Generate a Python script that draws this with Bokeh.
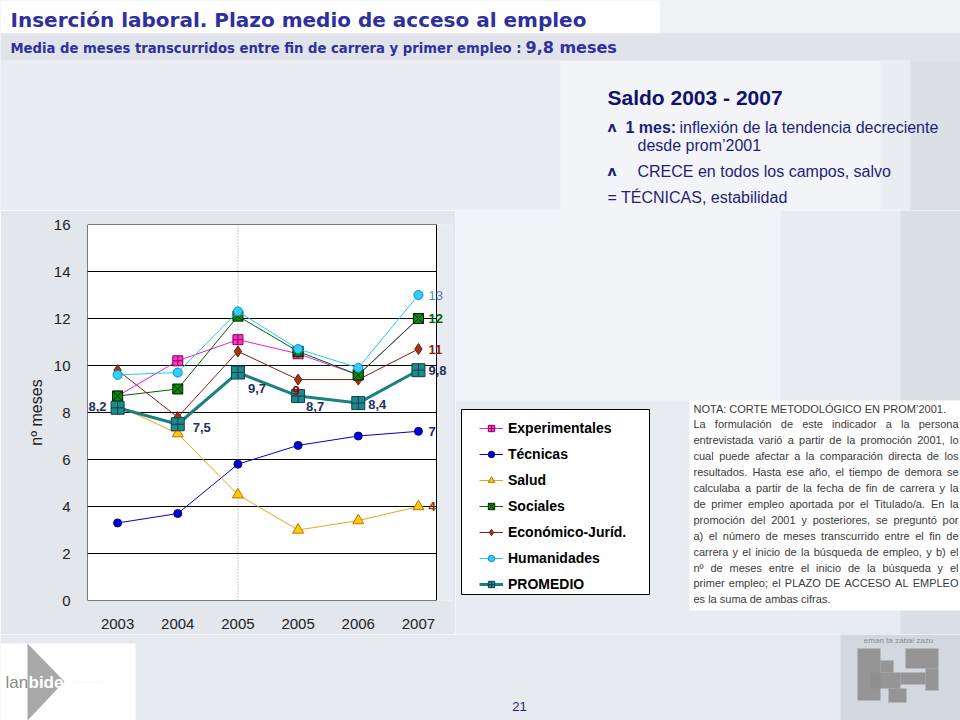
from bokeh.plotting import figure
from bokeh.layouts import column, row
from bokeh.models import (ColumnDataSource, Label, LabelSet, Legend, LegendItem,
                          Span, FixedTicker, Range1d)
from bokeh.embed import file_html
from bokeh.resources import INLINE
from bokeh.core.properties import value

# ---------------- data ----------------
years = ["2003", "2004", "2005", "2005", "2006", "2007"]
experimentales = [8.7, 10.2, 11.1, 10.5, 9.6, 12.0]
tecnicas = [3.3, 3.7, 5.8, 6.6, 7.0, 7.2]
salud = [8.3, 7.1, 4.5, 3.0, 3.4, 4.0]
sociales = [8.7, 9.0, 12.1, 10.6, 9.6, 12.0]
economico = [9.8, 7.8, 10.6, 9.4, 9.4, 10.7]
humanidades = [9.6, 9.7, 12.3, 10.7, 9.9, 13.0]
promedio = [8.2, 7.5, 9.7, 8.7, 8.4, 9.8]
y_ticks = [0, 2, 4, 6, 8, 10, 12, 14, 16]

xs = list(range(len(years)))
BG = "#E5E8ED"
NAVY = "#1E1E7A"
TITLE_C = "#2F2F9F"
ROW_TOP, ROW_BOT = 210, 634


def panel(x0, x1, y0, y1, bg=BG):
    """A figure whose frame covers the whole canvas; data units = page pixels."""
    f = figure(width=x1 - x0, height=y1 - y0, x_range=Range1d(x0, x1),
               y_range=Range1d(y1, y0), output_backend="svg",
               toolbar_location=None, x_axis_type=None, y_axis_type=None,
               min_border=0, title=None)
    f.outline_line_color = None
    f.background_fill_color = bg
    f.border_fill_color = bg
    f.frame_align = False
    return f


def txt(f, text, X, Y, size, color, style="normal", font="Liberation Sans",
        align="left", baseline="middle"):
    f.add_layout(Label(x=X, y=Y, text=text, text_font=font,
                       text_font_size=f"{size}px", text_font_style=style,
                       text_color=color, text_align=align, text_baseline=baseline))


def rect(f, l, t, r, b, fill, alpha=1.0, line=None, lw=1):
    f.quad(left=l, right=r, top=t, bottom=b, fill_color=fill, fill_alpha=alpha,
           line_color=line, line_width=lw)


# ---------------- header ----------------
head = panel(0, 960, 0, ROW_TOP)
rect(head, 0, 0, 660, 33, "white", 0.95)
rect(head, 660, 0, 960, 33, "#EEF0F4", 1.0)
rect(head, 0, 33, 960, 60, "#E0E4EA", 1.0)
rect(head, 0, 60, 960, ROW_TOP, "#E9ECF0", 1.0)
rect(head, 560, 60, 880, ROW_TOP, "#F3F4F7", 1.0)
rect(head, 910, 60, 960, ROW_TOP, "#DCE0E6", 1.0)

txt(head, "Inserción laboral. Plazo medio de acceso al empleo", 10, 19, 20, TITLE_C,
    "bold", "DejaVu Sans")
txt(head, "Media de meses transcurridos entre fin de carrera y primer empleo :", 10, 48,
    13.2, TITLE_C, "bold", "DejaVu Sans")
txt(head, "9,8 meses", 525, 47, 16, TITLE_C, "bold", "DejaVu Sans")

txt(head, "Saldo 2003 - 2007", 607, 97, 21, "#111170", "bold")
txt(head, "ʌ", 607, 126, 14, NAVY, "bold", "DejaVu Sans")
txt(head, "1 mes:", 625, 127, 16, NAVY, "bold")
txt(head, "inflexión de la tendencia decreciente", 679, 127, 16, NAVY)
txt(head, "desde prom’2001", 637, 145, 16, NAVY)
txt(head, "ʌ", 607, 170, 14, NAVY, "bold", "DejaVu Sans")
txt(head, "CRECE en todos los campos, salvo", 637, 171, 16, NAVY)
txt(head, "= TÉCNICAS, estabilidad", 607, 197, 16, NAVY)

# ---------------- chart ----------------
PX_PER_UNIT = 349 / 5.8
X_END = 5.3
chart = figure(width=455, height=ROW_BOT - ROW_TOP, output_backend="svg",
               toolbar_location=None, title=None,
               x_range=Range1d(-0.5, -0.5 + 365 / PX_PER_UNIT),
               y_range=Range1d(0, 16), min_border_left=87, min_border_right=3,
               min_border_top=224 - ROW_TOP, min_border_bottom=ROW_BOT - 600)
chart.frame_align = False
chart.border_fill_color = "#E3E6EB"
chart.background_fill_color = "#E8EBEF"
chart.outline_line_color = None

chart.xaxis.ticker = FixedTicker(ticks=xs)
chart.xaxis.major_label_overrides = {i: y for i, y in enumerate(years)}
chart.yaxis.ticker = FixedTicker(ticks=y_ticks)
for ax in (chart.xaxis[0], chart.yaxis[0]):
    ax.major_tick_line_color = None
    ax.minor_tick_line_color = None
    ax.axis_line_color = None
    ax.major_label_text_font = "Liberation Sans"
    ax.major_label_text_font_size = "15px"
    ax.major_label_text_color = "#222222"
chart.xaxis.major_label_standoff = 12
chart.yaxis.major_label_standoff = 11
chart.yaxis.axis_label = "nº meses"
chart.yaxis.axis_label_text_font = "Liberation Sans"
chart.yaxis.axis_label_text_font_size = "16px"
chart.yaxis.axis_label_text_font_style = "normal"
chart.yaxis.axis_label_text_color = "#222222"
chart.yaxis.axis_label_standoff = 6
chart.grid.visible = False

# plot area: white box with black border and horizontal gridlines
chart.quad(left=-0.5, right=X_END, bottom=y_ticks[0], top=y_ticks[-1],
           fill_color="white", line_color="black", line_width=1, level="underlay")
chart.segment(x0=[-0.5] * (len(y_ticks) - 2), x1=[X_END] * (len(y_ticks) - 2),
              y0=y_ticks[1:-1], y1=y_ticks[1:-1], line_color="black", line_width=1,
              level="underlay")
chart.add_layout(Span(location=2, dimension="height", line_color="#8C8CA8",
                      line_dash="1 2", line_width=1, level="underlay"))

# name, values, line colour, line width, marker, size, fill, outline
series = [
    ("Técnicas", tecnicas, "#0000CC", 1, "circle", 8, "#0000CC", "#000099"),
    ("Salud", salud, "#F0A020", 1, "triangle", 11, "#FFCC00", "#C07000"),
    ("Económico-Juríd.", economico, "#8B1A10", 1, "diamond", 11, "#A33510", "#6E1A05"),
    ("Experimentales", experimentales, "#E020E0", 1, "square_cross", 10, "#FF33CC", "#880055"),
    ("Sociales", sociales, "#006400", 1, "square_x", 10, "#0A8A0A", "#002800"),
    ("Humanidades", humanidades, "#22C8F0", 1, "circle", 9, "#33CCFF", "#0090C0"),
    ("PROMEDIO", promedio, "#1A8080", 3, "square_cross", 13, "#1F8A8A", "#0B3F50"),
]
styles = {}
for name, ys, lc, lw, mk, sz, fc, oc in series:
    src = ColumnDataSource(dict(x=xs, y=ys))
    chart.line("x", "y", source=src, line_color=lc, line_width=lw)
    chart.scatter("x", "y", source=src, marker=mk, size=sz, fill_color=fc,
                  line_color=oc, line_width=1)
    styles[name] = (src, lc, lw, mk, sz, fc, oc)


def fmt1(v):
    return f"{v:.1f}".replace(".", ",")


lab = dict(x=[], y=[], t=[], c=[], dx=[], dy=[], al=[], st=[])


def add_lab(x, y, t, c, dx, dy, al, st):
    for k, v in zip(["x", "y", "t", "c", "dx", "dy", "al", "st"], [x, y, t, c, dx, dy, al, st]):
        lab[k].append(v)


prom_off = [(-11, 1, "right"), (15, -3, "left"), (10, -16, "left"),
            (8, -10, "left"), (10, -1, "left"), (10, 0, "left")]
for i, v in enumerate(promedio):
    dx, dy, al = prom_off[i]
    add_lab(i, v, fmt1(v), "#1F3060", dx, dy, al, "bold")
ends = [(humanidades, "#5A7FC8", "normal"), (sociales, "#006400", "bold"),
        (economico, "#8B1A10", "bold"), (tecnicas, "#1F1F70", "bold"),
        (salud, "#993300", "bold")]
for ys, c, st in ends:
    add_lab(5, ys[5], str(int(round(ys[5]))), c, 10, 0, "left", st)
add_lab(3, economico[3], str(int(round(economico[3]))), "#990000", -2, -11, "center", "bold")

chart.add_layout(LabelSet(x="x", y="y", text="t", source=ColumnDataSource(lab),
                          x_offset="dx", y_offset="dy", text_color="c",
                          text_align="al", text_baseline="middle",
                          text_font=value("Liberation Sans"), text_font_size="13px",
                          text_font_style="st"))

# ---------------- right panel: legend + note ----------------
SX0 = 455
side = panel(SX0, 960, ROW_TOP, ROW_BOT, "#E8EBEF")
rect(side, SX0, ROW_TOP, 780, 400, "#F1F3F6", 1.0)
rect(side, 900, ROW_TOP, 960, ROW_BOT, "#DADEE5", 1.0)

# legend frame
rect(side, 461, 409, 649, 594, "white", 1.0, "black", 1)
order = ["Experimentales", "Técnicas", "Salud", "Sociales", "Económico-Juríd.",
         "Humanidades", "PROMEDIO"]
items = []
for n in order:
    src, lc, lw, mk, sz, fc, oc = styles[n]
    # same data, lying outside this panel's ranges: only used as legend glyphs
    l = side.line("x", "y", source=src, line_color=lc, line_width=lw)
    s = side.scatter("x", "y", source=src, marker=mk, size=sz, fill_color=fc,
                     line_color=oc, line_width=1)
    items.append(LegendItem(label=n, renderers=[l, s]))
legend = Legend(items=items, location=(483 - 4 - SX0, ROW_BOT - 594), padding=4, margin=0,
                spacing=6, label_height=20, glyph_height=16, glyph_width=24,
                label_standoff=5, label_text_font="Liberation Sans",
                label_text_font_size="14px", label_text_font_style="bold",
                label_text_color="black", border_line_color=None,
                background_fill_alpha=0)
side.add_layout(legend, "center")

# note box (justified text, Arial/Liberation Sans metrics)
AW = {" ": 278, "!": 278, "'": 191, "’": 222, "(": 333, ")": 333, ",": 278, "-": 333,
      ".": 278, "/": 278, ":": 278, ";": 278, "º": 365,
      "A": 667, "B": 667, "C": 722, "D": 722, "E": 667, "F": 611, "G": 778, "H": 722,
      "I": 278, "J": 500, "K": 667, "L": 556, "M": 833, "N": 722, "O": 778, "P": 667,
      "Q": 778, "R": 722, "S": 667, "T": 611, "U": 722, "V": 667, "W": 944, "X": 667,
      "Y": 667, "Z": 611, "Ó": 778, "É": 667,
      "a": 556, "b": 556, "c": 500, "d": 556, "e": 556, "f": 278, "g": 556, "h": 556,
      "i": 222, "j": 222, "k": 500, "l": 222, "m": 833, "n": 556, "o": 556, "p": 556,
      "q": 556, "r": 333, "s": 500, "t": 278, "u": 556, "v": 500, "w": 722, "x": 500,
      "y": 500, "z": 500, "á": 556, "é": 556, "í": 278, "ó": 556, "ú": 556, "ñ": 556}


def tw(s, size):
    return sum(AW.get(ch, 556) for ch in s) * size / 1000.0


rect(side, 689, 400, 960, 610, "white", 1.0)
note_lines = [
    "NOTA: CORTE METODOLÓGICO EN PROM’2001.",
    "La formulación de este indicador a la persona",
    "entrevistada varió a partir de la promoción 2001, lo",
    "cual puede afectar a la comparación directa de los",
    "resultados. Hasta ese año, el tiempo de demora se",
    "calculaba a partir de la fecha de fin de carrera y la",
    "de primer empleo aportada por el Titulado/a. En la",
    "promoción del 2001 y posteriores, se preguntó por",
    "a) el número de meses transcurrido entre el fin de",
    "carrera y el inicio de la búsqueda de empleo, y b) el",
    "nº de meses entre el inicio de la búsqueda y el",
    "primer empleo; el PLAZO DE ACCESO AL EMPLEO",
    "es la suma de ambas cifras.",
]
NOTE_X, NOTE_W, NOTE_FS = 693, 265, 11
for i, line in enumerate(note_lines):
    y = 408 + i * 15.9
    words = line.split(" ")
    if i in (0, len(note_lines) - 1) or len(words) < 2:
        txt(side, line, NOTE_X, y, NOTE_FS, "#3A3A3A")
        continue
    natural = sum(tw(w, NOTE_FS) for w in words)
    gap = (NOTE_W - natural) / (len(words) - 1)
    x = NOTE_X
    for w in words:
        txt(side, w, x, y, NOTE_FS, "#3A3A3A")
        x += tw(w, NOTE_FS) + gap

# ---------------- footer ----------------
foot = panel(0, 960, ROW_BOT, 720, "#E6E9EE")
rect(foot, 0, 643, 135, 720, "white", 1.0)
foot.patch(x=[27, 64, 27], y=[643, 681, 720], fill_color="#A9A9A9", line_color=None)
txt(foot, "lan", 5, 682, 17, "#8A8A8A")
txt(foot, "bide", 28, 682, 17, "white", "bold")
txt(foot, "·····  ·····  ·····", 72, 681, 6, "#D0D0D0")
txt(foot, "21", 519, 706, 13, NAVY, align="center")
rect(foot, 840, ROW_BOT, 960, 720, "#D3D8DF", 1.0)
txt(foot, "eman ta zabal zazu", 898, 640, 8, "#8C8C8C", align="center")
for l_, t_, r_, b_ in [(857, 648, 880, 700), (880, 660, 893, 672), (905, 648, 938, 668),
                       (925, 668, 938, 690), (870, 672, 900, 688), (888, 688, 906, 702),
                       (900, 672, 925, 684)]:
    rect(foot, l_, t_, r_, b_, "#8E8E8E", 0.9)

layout = column(head, row(chart, side), foot)
open("out.html", "w").write(file_html(layout, INLINE))
